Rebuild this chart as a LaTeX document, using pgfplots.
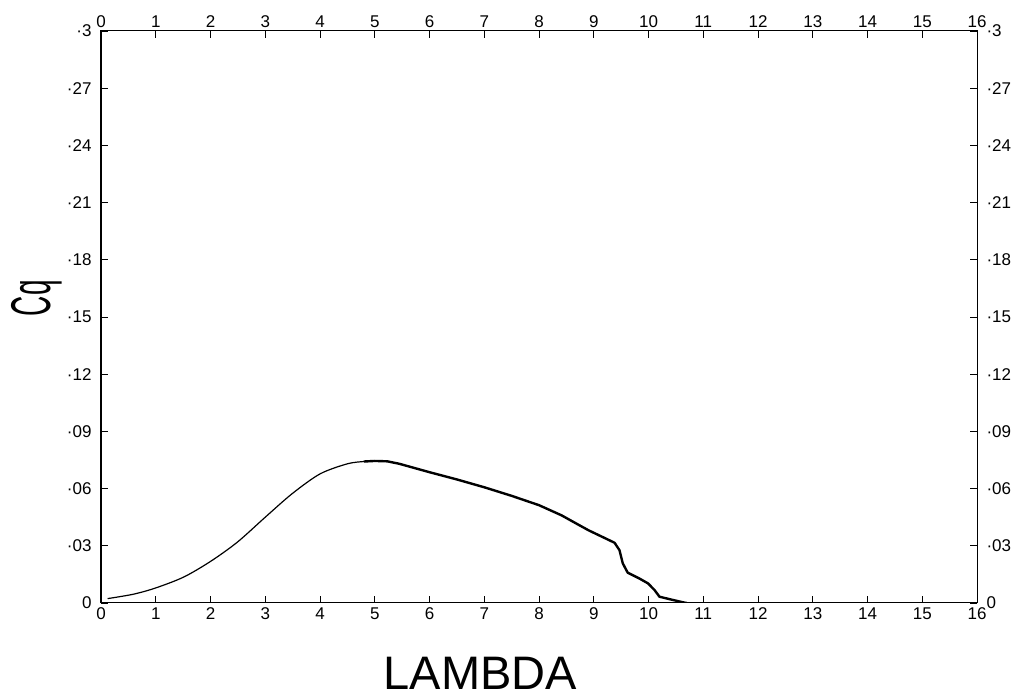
\documentclass[border=0pt]{standalone}
\usepackage{fontspec}
\setmainfont{Liberation Sans}
\usepackage{graphicx}
\usepackage{pgfplots}
\pgfplotsset{compat=1.18}
\begin{document}
\begin{tikzpicture}
\pgfplotsset{
  common/.style={
    scale only axis, width=876pt, height=572pt,
    xmin=0, xmax=16, ymin=0, ymax=0.3,
    xtick={0,1,...,16},
    ytick={0,0.03,0.06,0.09,0.12,0.15,0.18,0.21,0.24,0.27,0.3},
    xticklabels={0,1,2,3,4,5,6,7,8,9,10,11,12,13,14,15,16},
    yticklabels={0,·03,·06,·09,·12,·15,·18,·21,·24,·27,·3},
    tick align=inside, major tick length=7pt,
    tick style={black, line width=0.8pt},
    axis line style={line width=1pt},
    ticklabel style={font=\fontsize{17}{19}\selectfont},
    /pgf/number format/assume math mode=true,
  }
}
\begin{axis}[common, name=ax, tick pos=both,
  xticklabel pos=bottom, yticklabel pos=left,
  yticklabel style={xshift=-6pt},
  xticklabel style={yshift=-1pt},
  xlabel={LAMBDA},
  every axis x label/.style={at={(axis description cs:0.433,-0.1224)},anchor=center,inner sep=0pt,font=\fontsize{47}{50}\selectfont},
  ylabel={\scalebox{0.5}[1]{Cq}},
  every axis y label/.style={at={(axis description cs:-0.073,0.533)},rotate=90,anchor=center,inner sep=0pt,font=\fontsize{56}{60}\selectfont},
]
\addplot[black, line width=1.2pt, smooth] coordinates {
(0.12,0.0023) (0.59,0.0046) (1.0,0.0079) (1.51,0.0136) (2.0,0.0218) (2.49,0.0319)
(3.0,0.045) (3.49,0.0573) (4.0,0.0677) (4.5,0.073) (4.8,0.0742) (5.0,0.0745)
};
\addplot[black, line width=2.4pt, line join=round] coordinates {
(4.8,0.0742) (5.0,0.0745) (5.23,0.0743) (5.45,0.073) (6.0,0.0686) (6.5,0.0648) (7.0,0.0607)
(7.5,0.0562) (8.0,0.0513) (8.41,0.046) (8.9,0.0382) (9.38,0.0316) (9.47,0.0277)
(9.53,0.0208) (9.62,0.0159) (9.83,0.0129) (9.99,0.0103) (10.11,0.0068)
(10.2,0.0033) (10.4,0.0019) (10.64,0.0003) (10.7,0.0)
};
\end{axis}
\begin{axis}[common, tick pos=both,
  xticklabel pos=top, yticklabel pos=right,
  yticklabel style={xshift=6pt},
]
\end{axis}
\path ([xshift=-101pt,yshift=-94pt]ax.south west) rectangle ([xshift=44pt,yshift=31pt]ax.north east);
\end{tikzpicture}
\end{document}
